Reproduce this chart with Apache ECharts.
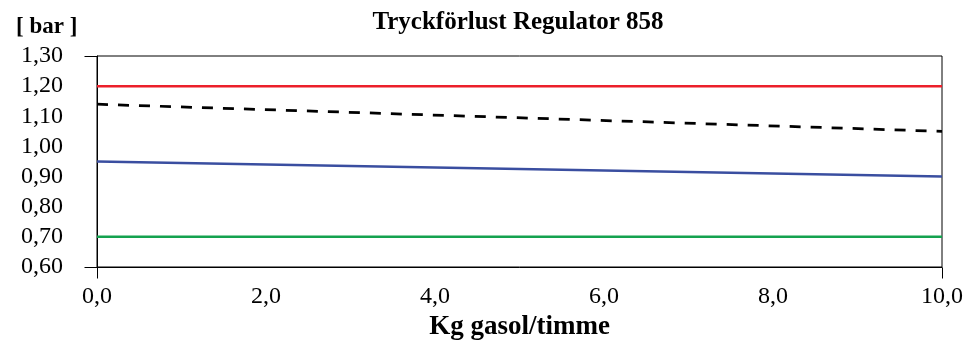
<!DOCTYPE html>
<html>
<head>
<meta charset="utf-8">
<script src="https://cdn.jsdelivr.net/npm/echarts@6/dist/echarts.min.js"></script>
<style>
  html, body { margin: 0; padding: 0; background: #fff; }
  #chart { width: 967px; height: 347px; }
</style>
</head>
<body>
<div id="chart"></div>
<script>
// Flow rate in kg gasol per hour (x) and pressure in bar (y)
const flowPoints = [0, 10];
const maxPressure = [1.20, 1.20];
const inletPressure = [1.14, 1.05];
const outletPressure = [0.95, 0.90];
const minPressure = [0.70, 0.70];
const xTicks = [0, 2, 4, 6, 8, 10];
const yTicks = [0.6, 0.7, 0.8, 0.9, 1.0, 1.1, 1.2, 1.3];

const FONT = '"Liberation Serif", "Times New Roman", serif';
const X_MIN = xTicks[0], X_MAX = xTicks[xTicks.length - 1];
const Y_MIN = yTicks[0], Y_MAX = yTicks[yTicks.length - 1];

function pairs(xs, ys) {
  return xs.map((x, i) => [x, ys[i]]);
}

const chart = echarts.init(document.getElementById('chart'), null, { renderer: 'canvas' });

chart.setOption({
  backgroundColor: '#ffffff',
  animation: false,
  title: [
    {
      text: 'Tryckförlust Regulator 858',
      left: 513, top: 5, textAlign: 'center',
      textStyle: { fontFamily: FONT, fontWeight: 'bold', fontSize: 25, color: '#000' }
    },
    {
      text: '[ bar ]',
      left: 11, top: 11,
      textStyle: { fontFamily: FONT, fontWeight: 'bold', fontSize: 23, color: '#000' }
    }
  ],
  grid: {
    left: 97, right: 25, top: 56, bottom: 80,
    show: true, borderColor: '#000', borderWidth: 1, backgroundColor: 'transparent'
  },
  xAxis: {
    type: 'value',
    min: X_MIN, max: X_MAX, interval: 2,
    axisLine: { show: true, lineStyle: { color: '#000', width: 1 } },
    axisTick: { show: false },
    splitLine: { show: false },
    axisLabel: {
      margin: 18, color: '#000', fontFamily: FONT, fontSize: 24,
      formatter: v => v.toFixed(1).replace('.', ',')
    },
    name: 'Kg gasol/timme',
    nameLocation: 'middle', nameGap: 47,
    nameTextStyle: { fontFamily: FONT, fontWeight: 'bold', fontSize: 27, color: '#000' }
  },
  yAxis: {
    type: 'value',
    min: Y_MIN, max: Y_MAX, interval: 0.1,
    axisLine: { show: true, lineStyle: { color: '#000', width: 1 } },
    axisTick: { show: false },
    splitLine: { show: false },
    axisLabel: {
      margin: 34, color: '#000', fontFamily: FONT, fontSize: 24,
      formatter: v => v.toFixed(2).replace('.', ',')
    }
  },
  series: [
    {
      type: 'line', data: pairs(flowPoints, maxPressure), symbol: 'none',
      lineStyle: { color: '#ec1f2a', width: 2.5 }, z: 3
    },
    {
      type: 'line', data: pairs(flowPoints, inletPressure), symbol: 'none',
      lineStyle: { color: '#000000', width: 2.75, type: [11, 10] }, z: 3
    },
    {
      type: 'line', data: pairs(flowPoints, outletPressure), symbol: 'none',
      lineStyle: { color: '#3a4ea0', width: 2.5 }, z: 3
    },
    {
      type: 'line', data: pairs(flowPoints, minPressure), symbol: 'none',
      lineStyle: { color: '#14a24f', width: 2.5 }, z: 3
    }
  ]
});

// Outward tick marks only at the two ends of each axis, placed through the axis scales
const finder = { xAxisIndex: 0, yAxisIndex: 0 };
const corner0 = chart.convertToPixel(finder, [X_MIN, Y_MIN]);
const corner1 = chart.convertToPixel(finder, [X_MAX, Y_MAX]);
const crisp = v => Math.round(v) + 0.5;
const tickStyle = { stroke: '#000', lineWidth: 1 };
const endTicks = [
  // y axis ends (pointing left)
  [corner0[0] - 13, corner0[1], corner0[0], corner0[1]],
  [corner0[0] - 13, corner1[1], corner0[0], corner1[1]],
  // x axis ends (pointing down)
  [corner0[0], corner0[1], corner0[0], corner0[1] + 11],
  [corner1[0], corner0[1], corner1[0], corner0[1] + 11]
].map(([x1, y1, x2, y2]) => ({
  type: 'line', silent: true, z: 10,
  shape: { x1: crisp(x1), y1: crisp(y1), x2: crisp(x2), y2: crisp(y2) },
  style: tickStyle
}));
chart.setOption({ graphic: endTicks });
</script>
</body>
</html>
